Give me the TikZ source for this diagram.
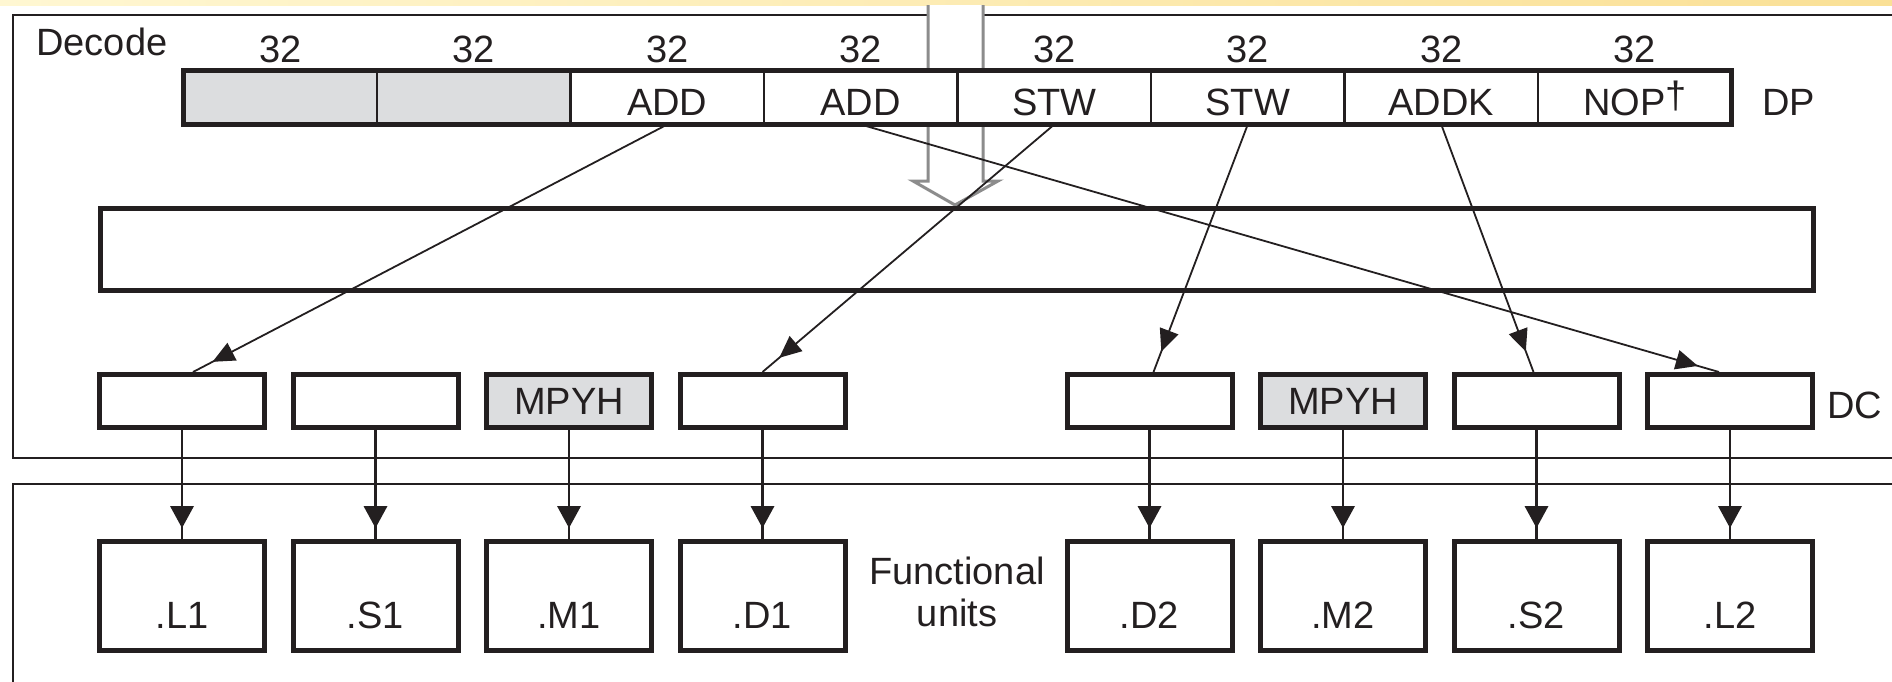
\documentclass[tikz,border=0pt]{standalone}
\usepackage{fontspec}
\setmainfont{Liberation Sans}
\usetikzlibrary{decorations.markings,calc}
\definecolor{ink}{RGB}{35,31,32}
\definecolor{regfill}{RGB}{220,221,223}
\definecolor{arrowgray}{RGB}{140,140,140}
\definecolor{stripL}{RGB}{255,247,210}
\definecolor{stripR}{RGB}{250,224,150}

\begin{document}
\begin{tikzpicture}[x=0.5pt,y=-0.5pt,
  every node/.style={font=\fontsize{19pt}{21pt}\selectfont, text=ink, inner sep=0pt},
  frame/.style={draw=ink, line width=1.35pt},
  cell/.style={draw=ink, line width=1.25pt, outer sep=0pt, minimum width=96.75pt,
    minimum height=27pt, text height=17.5pt, text depth=0pt, fill=white},
  graycell/.style={cell, fill=regfill},
  dcbox/.style={draw=ink, line width=2.5pt, minimum width=82.5pt, minimum height=26.5pt, fill=white},
  mpybox/.style={dcbox, fill=regfill},
  fubox/.style={draw=ink, line width=2.5pt, minimum width=82.5pt, minimum height=54.5pt,
    text height=32pt, text depth=0pt, fill=white},
  % solid triangular heads set a little before the end of the line
  busarrow/.style={draw=ink, line width=1.1pt, postaction={decorate},
    decoration={markings, mark=at position -5.5pt with {\fill[ink] (0,0) -- (-22,12) -- (-22,-12) -- cycle;}}},
  issue/.style={draw=ink, line width=0.9pt, postaction={decorate},
    decoration={markings, mark=at position -11pt with {\fill[ink] (0,0) -- (-22,10) -- (-22,-10) -- cycle;}}},
]
\useasboundingbox (0,0) rectangle (1892,681);
\clip (0,0) rectangle (1892,681);

% thin header strip
\shade[left color=stripL, right color=stripR] (0,0) rectangle (1892,5);

% decode stage and functional-unit frames
\draw[frame] (13,15) rectangle (1950,458);
\draw[frame] (13,484) rectangle (1950,720);

% wide fetch-packet arrow into the dispatch buffer
\fill[white] (928,5) -- (928,181) -- (913,181) -- (955,205) -- (998,181) -- (983,181) -- (983,5) -- cycle;
\draw[arrowgray, line width=1.5pt, line join=miter]
  (928,5) -- (928,181) -- (913,181) -- (955,205) -- (998,181) -- (983,181) -- (983,5);

% dispatch buffer
\node[draw=ink, line width=2.5pt, minimum width=856.5pt, minimum height=41pt] (buf) at (957,249.5) {};

% execute packet register (DP)
\node[graycell] (c1) at (280.25,97.5) {};
\node[graycell] (c2) at (473.75,97.5) {};
\node[cell] (c3) at (667.25,97.5) {ADD};
\node[cell] (c4) at (860.75,97.5) {ADD};
\node[cell] (c5) at (1054.25,97.5) {STW};
\node[cell] (c6) at (1247.75,97.5) {STW};
\node[cell] (c7) at (1441.25,97.5) {ADDK};
\node[cell] (c8) at (1634.75,97.5) {NOP\raisebox{0.16em}{†}};
\draw[ink, line width=2.5pt] (c1.north west) rectangle (c8.south east);

% field widths
\foreach \i/\xx in {1/280.25,2/473.75,3/667.25,4/860.75,5/1054.25,6/1247.75,7/1441.25,8/1634.75}
  \node[anchor=base] (w\i) at (\xx,62) {32};

% stage labels
\node[anchor=base west] (lbldec) at (36,55) {Decode};
\node[anchor=base west] (lbldp) at (1762,115) {DP};
\node[anchor=base west] (lbldc) at (1827,418) {DC};
\node[align=center] (lblfu) at (957,592) {Functional\\units};

% decode (DC) slots
\node[dcbox] (dc1) at (182,401) {};
\node[dcbox] (dc2) at (375.5,401) {};
\node[mpybox] (dc3) at (569,401) {MPYH};
\node[dcbox] (dc4) at (762.5,401) {};
\node[dcbox] (dc5) at (1149.5,401) {};
\node[mpybox] (dc6) at (1343,401) {MPYH};
\node[dcbox] (dc7) at (1536.5,401) {};
\node[dcbox] (dc8) at (1730,401) {};

% functional units
\node[fubox] (fu1) at (182,596) {.L1};
\node[fubox] (fu2) at (375.5,596) {.S1};
\node[fubox] (fu3) at (569,596) {.M1};
\node[fubox] (fu4) at (762.5,596) {.D1};
\node[fubox] (fu5) at (1149.5,596) {.D2};
\node[fubox] (fu6) at (1343,596) {.M2};
\node[fubox] (fu7) at (1536.5,596) {.S2};
\node[fubox] (fu8) at (1730,596) {.L2};

% DC slot to functional unit
\foreach \i in {1,...,8}
  \draw[busarrow] (dc\i.south) -- (fu\i.north);

% instruction routing from DP to DC
\draw[issue] (c3.south) -- ($(dc1.north)+(11,0)$);
\draw[issue] (c4.south) -- ($(dc8.north)+(-11,0)$);
\draw[issue] (c5.south) -- (dc4.north);
\draw[issue] (c6.south) -- ($(dc5.north)+(4,0)$);
\draw[issue] (c7.south) -- ($(dc7.north)+(-3,0)$);
\end{tikzpicture}
\end{document}
